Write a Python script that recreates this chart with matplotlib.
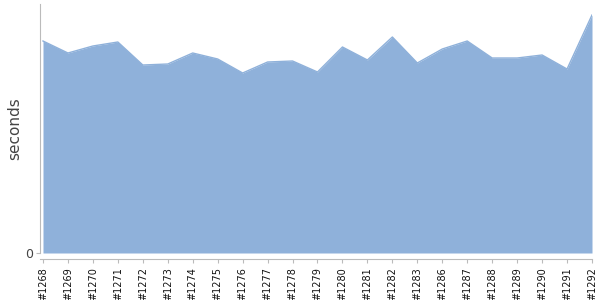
import matplotlib
matplotlib.use("Agg")
import matplotlib.pyplot as plt

# build numbers and durations (seconds)
builds = ['#1268', '#1269', '#1270', '#1271', '#1272', '#1273', '#1274', '#1275',
          '#1276', '#1277', '#1278', '#1279', '#1280', '#1281', '#1282', '#1283',
          '#1286', '#1287', '#1288', '#1289', '#1290', '#1291', '#1292']
seconds = [21.2, 20.0, 20.7, 21.1, 18.8, 18.9, 20.0, 19.4, 18.0, 19.1, 19.2, 18.1,
           20.6, 19.3, 21.6, 19.0, 20.4, 21.2, 19.5, 19.5, 19.8, 18.4, 23.8]

fill_color = '#8fb1da'
axis_gray = '#bbbbbb'

fig = plt.figure(figsize=(6, 3), dpi=100)
ax = fig.add_axes([40 / 600, 47 / 300, 552 / 600, 249 / 300])

x = list(range(len(builds)))
ax.fill_between(x, 0, seconds, color=fill_color, linewidth=0)
ax.plot(x, seconds, color=fill_color, linewidth=1)

ax.set_xlim(-0.12, len(builds) - 1)
ax.set_ylim(0, 24.9)

ax.set_xticks(x)
ax.set_xticklabels(builds)
ax.set_yticks([0])
ax.set_yticklabels(['0'])
ax.tick_params(axis='x', length=3, color=axis_gray, pad=3, labelsize=7,
               labelcolor='#111111', labelrotation=90)
ax.tick_params(axis='y', length=3, color=axis_gray, pad=2, labelsize=9,
               labelcolor='#444444')

ax.set_ylabel('seconds', fontsize=11, color='#444444', labelpad=2)

for s in ['top', 'right']:
    ax.spines[s].set_visible(False)
ax.spines['left'].set_color(axis_gray)
ax.spines['bottom'].set_color(axis_gray)
ax.spines['bottom'].set_position(('outward', 4))

fig.savefig('out.png', dpi=100)
